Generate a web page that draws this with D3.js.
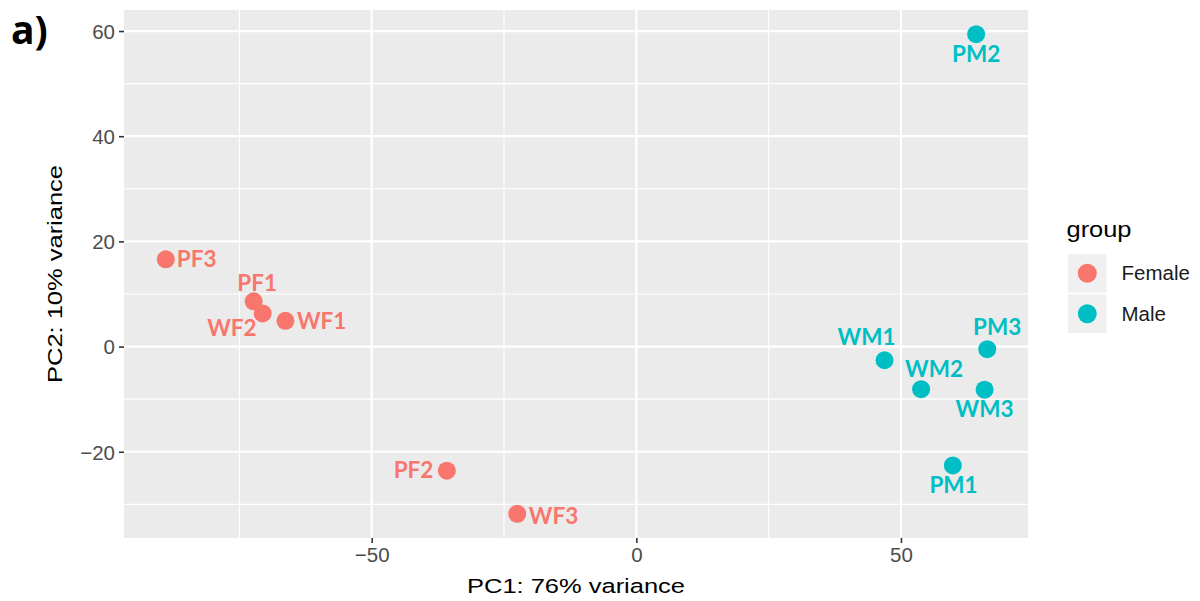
<!DOCTYPE html>
<html>
<head>
<meta charset="utf-8">
<script src="https://cdn.jsdelivr.net/npm/d3@7"></script>
<style>
  html, body { margin: 0; padding: 0; background: #ffffff; }
  svg { display: block; }
</style>
</head>
<body>
<svg id="chart" width="1200" height="601"></svg>
<script>
// PCA scores per sample
const samples = ["PF1", "PF2", "PF3", "WF1", "WF2", "WF3", "PM1", "PM2", "PM3", "WM1", "WM2", "WM3"];
const pc1     = [-72.3, -35.8, -88.9, -66.3, -70.6, -22.5, 59.8, 64.2, 66.3, 46.9, 53.8, 65.8];
const pc2     = [8.6, -23.6, 16.6, 4.9, 6.3, -31.8, -22.6, 59.4, -0.5, -2.6, -8.1, -8.2];
const groups  = ["Female", "Female", "Female", "Female", "Female", "Female", "Male", "Male", "Male", "Male", "Male", "Male"];

const groupNames  = ["Female", "Male"];
const groupColors = ["#F8766D", "#00BFC4"];

const xMajorTicks = [-50, 0, 50];
const xMinorTicks = [-75, -25, 25];
const yMajorTicks = [-20, 0, 20, 40, 60];
const yMinorTicks = [-30, -10, 10, 30, 50];

const xTitle = "PC1: 76% variance";
const yTitle = "PC2: 10% variance";
const legendTitle = "group";
const panelTag = "a)";

// label placement around each point (pixel offsets and anchor)
const labelPlacement = {
  PF3: { dx: 11, dy: 7.5, anchor: "start" },
  PF1: { dx: 3.5, dy: -10, anchor: "middle" },
  WF2: { dx: -6, dy: 22.7, anchor: "end" },
  WF1: { dx: 11.5, dy: 8.6, anchor: "start" },
  PF2: { dx: -13.5, dy: 7.3, anchor: "end" },
  WF3: { dx: 11.5, dy: 10, anchor: "start" },
  WM1: { dx: -18, dy: -15.7, anchor: "middle" },
  PM3: { dx: 10, dy: -14.3, anchor: "middle" },
  WM2: { dx: 13, dy: -12, anchor: "middle" },
  WM3: { dx: 0, dy: 27.3, anchor: "middle" },
  PM1: { dx: 0.7, dy: 27.6, anchor: "middle" },
  PM2: { dx: 0, dy: 27.4, anchor: "middle" }
};

const svg = d3.select("#chart");

const panel = { left: 124, top: 10, right: 1028, bottom: 538 };

const x = d3.scaleLinear()
  .domain([-96.8, 74.0])
  .range([panel.left, panel.right]);

const y = d3.scaleLinear()
  .domain([-36.4, 64.0])
  .range([panel.bottom, panel.top]);

const color = d3.scaleOrdinal().domain(groupNames).range(groupColors);

// panel background
svg.append("rect")
  .attr("x", panel.left)
  .attr("y", panel.top)
  .attr("width", panel.right - panel.left)
  .attr("height", panel.bottom - panel.top)
  .attr("fill", "#EBEBEB");

// grid lines
const grid = svg.append("g").attr("class", "grid");
grid.selectAll("line.xminor").data(xMinorTicks).join("line")
  .attr("x1", d => x(d)).attr("x2", d => x(d))
  .attr("y1", panel.top).attr("y2", panel.bottom)
  .attr("stroke", "#ffffff").attr("stroke-width", 1.1);
grid.selectAll("line.yminor").data(yMinorTicks).join("line")
  .attr("y1", d => y(d)).attr("y2", d => y(d))
  .attr("x1", panel.left).attr("x2", panel.right)
  .attr("stroke", "#ffffff").attr("stroke-width", 1.1);
grid.selectAll("line.xmajor").data(xMajorTicks).join("line")
  .attr("x1", d => x(d)).attr("x2", d => x(d))
  .attr("y1", panel.top).attr("y2", panel.bottom)
  .attr("stroke", "#ffffff").attr("stroke-width", 2.2);
grid.selectAll("line.ymajor").data(yMajorTicks).join("line")
  .attr("y1", d => y(d)).attr("y2", d => y(d))
  .attr("x1", panel.left).attr("x2", panel.right)
  .attr("stroke", "#ffffff").attr("stroke-width", 2.2);

// axes
const fmt = d => (d < 0 ? "\u2212" + Math.abs(d) : String(d));

const xAxis = svg.append("g")
  .attr("transform", `translate(0,${panel.bottom})`)
  .call(d3.axisBottom(x).tickValues(xMajorTicks).tickFormat(fmt).tickSize(5).tickPadding(4));
const yAxis = svg.append("g")
  .attr("transform", `translate(${panel.left},0)`)
  .call(d3.axisLeft(y).tickValues(yMajorTicks).tickFormat(fmt).tickSize(5).tickPadding(4));

[xAxis, yAxis].forEach(a => {
  a.select(".domain").remove();
  a.selectAll(".tick line").attr("stroke", "#333333").attr("stroke-width", 1.6);
  a.selectAll(".tick text")
    .attr("fill", "#4D4D4D")
    .style("font-family", "'Liberation Sans', Arial, sans-serif")
    .style("font-size", "20.5px");
});
xAxis.selectAll(".tick text").attr("dy", "0.72em");
yAxis.selectAll(".tick text").attr("dy", "0.36em");

// axis titles
svg.append("text")
  .attr("x", (panel.left + panel.right) / 2)
  .attr("y", 592.5)
  .attr("text-anchor", "middle")
  .attr("textLength", 218)
  .attr("lengthAdjust", "spacingAndGlyphs")
  .style("font-family", "'Liberation Sans', Arial, sans-serif")
  .style("font-size", "20.5px")
  .attr("fill", "#000000")
  .text(xTitle);

svg.append("text")
  .attr("transform", `translate(62,${(panel.top + panel.bottom) / 2}) rotate(-90)`)
  .attr("text-anchor", "middle")
  .attr("textLength", 218)
  .attr("lengthAdjust", "spacingAndGlyphs")
  .style("font-family", "'Liberation Sans', Arial, sans-serif")
  .style("font-size", "20.5px")
  .attr("fill", "#000000")
  .text(yTitle);

// points
const rows = samples.map((s, i) => ({ name: s, pc1: pc1[i], pc2: pc2[i], group: groups[i] }));

svg.append("g").selectAll("circle").data(rows).join("circle")
  .attr("cx", d => x(d.pc1))
  .attr("cy", d => y(d.pc2))
  .attr("r", 9)
  .attr("fill", d => color(d.group));

// sample labels
svg.append("g").selectAll("text").data(rows).join("text")
  .attr("x", d => x(d.pc1) + labelPlacement[d.name].dx)
  .attr("y", d => y(d.pc2) + labelPlacement[d.name].dy)
  .attr("text-anchor", d => labelPlacement[d.name].anchor)
  .attr("fill", d => color(d.group))
  .style("font-family", "Lato, 'Open Sans', sans-serif")
  .style("font-weight", "bold")
  .style("font-size", "22.5px")
  .text(d => d.name);

// legend
const legend = svg.append("g");
legend.append("text")
  .attr("x", 1066.5)
  .attr("y", 236.5)
  .attr("textLength", 65)
  .attr("lengthAdjust", "spacingAndGlyphs")
  .style("font-family", "'Liberation Sans', Arial, sans-serif")
  .style("font-size", "22px")
  .attr("fill", "#000000")
  .text(legendTitle);

const keys = legend.selectAll("g.key").data(groupNames).join("g")
  .attr("class", "key")
  .attr("transform", (d, i) => `translate(1068,${254 + i * 40.5})`);
keys.append("rect")
  .attr("width", 38.5).attr("height", 38.5)
  .attr("fill", "#F0F0F0");
keys.append("circle")
  .attr("cx", 19.3).attr("cy", 19.3).attr("r", 9.5)
  .attr("fill", d => color(d));
keys.append("text")
  .attr("x", 53.5).attr("y", 26.3)
  .style("font-family", "'Liberation Sans', Arial, sans-serif")
  .style("font-size", "20.5px")
  .attr("fill", "#1A1A1A")
  .text(d => d);

// panel tag
svg.append("text")
  .attr("x", 11)
  .attr("y", 43.5)
  .style("font-family", "'Open Sans', sans-serif")
  .style("font-weight", "bold")
  .style("font-size", "39px")
  .attr("fill", "#000000")
  .text(panelTag);
</script>
</body>
</html>
